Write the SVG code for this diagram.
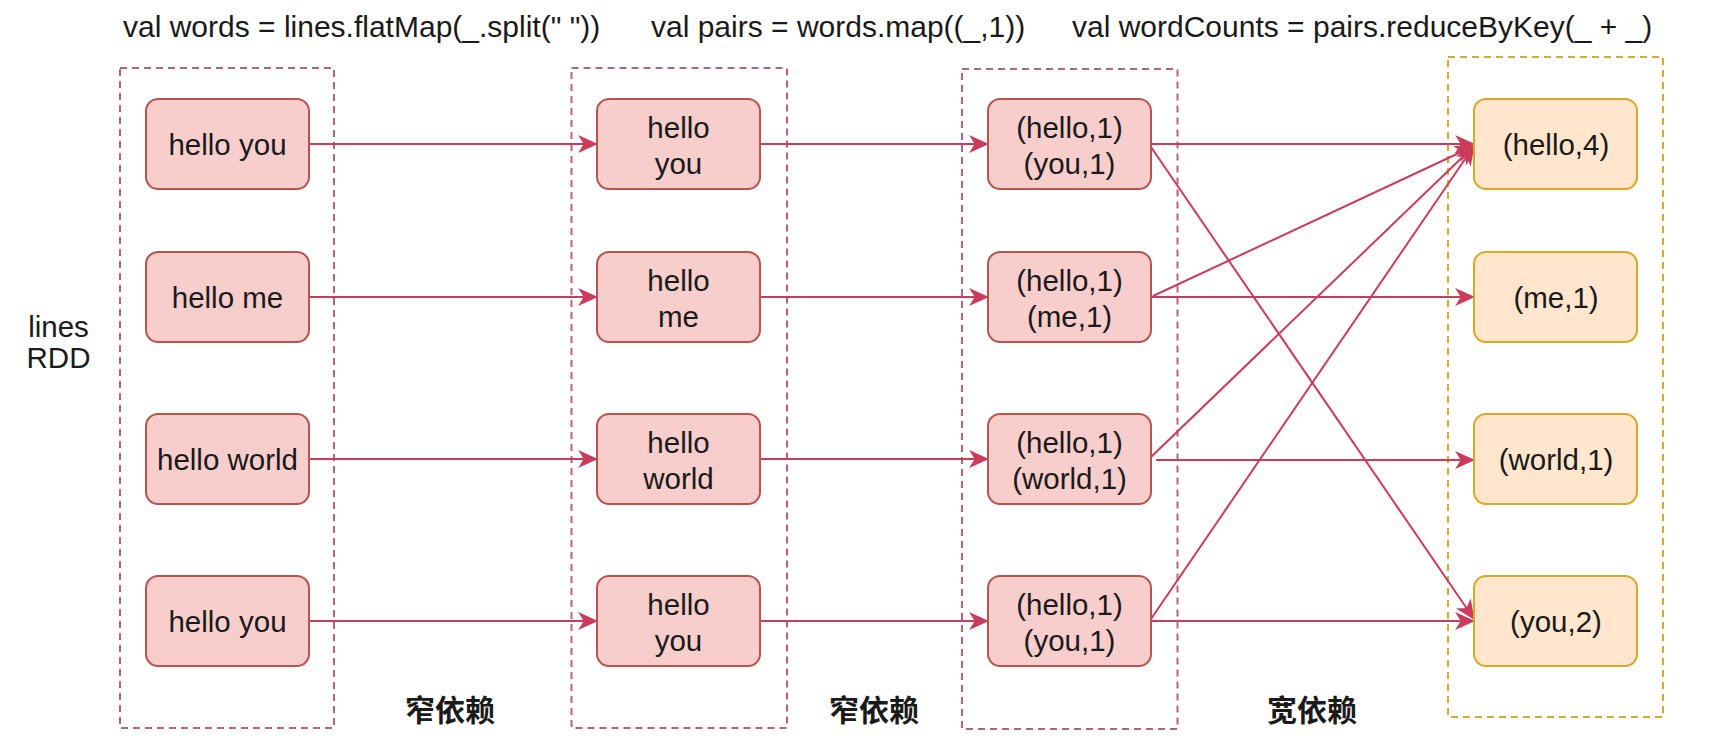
<svg xmlns="http://www.w3.org/2000/svg" width="1710" height="748" viewBox="0 0 1710 748">
<defs>
<style>
text{font-family:"Liberation Sans",Arial,Helvetica,sans-serif;fill:#1a1a1a;}
.t{font-size:30px;}
.n{font-size:29.5px;text-anchor:middle;}
.cj{font-family:"Liberation Sans","Noto Sans CJK SC",sans-serif;font-size:30px;font-weight:bold;text-anchor:middle;}
.grp{fill:none;stroke:#b5647f;stroke-width:2;stroke-dasharray:7 5;}
.grpo{fill:none;stroke:#d6a834;stroke-width:2;stroke-dasharray:7 5;}
.r{fill:#f8cecc;stroke:#b85450;stroke-width:2;}
.o{fill:#ffe6cc;stroke:#d9a826;stroke-width:2;}
.e{fill:none;stroke:#c93c5c;stroke-width:2;marker-end:url(#ah);}
</style>
<marker id="ah" markerUnits="userSpaceOnUse" markerWidth="20" markerHeight="18" viewBox="0 0 18 16" refX="17" refY="8" orient="auto">
<path d="M0,0 L18,8 L0,16 L5,8 z" fill="#c93c5c"/>
</marker>
</defs>
<rect width="1710" height="748" fill="#ffffff"/>

<g id="titles">
<text class="t" x="123" y="37">val words = lines.flatMap(_.split(" "))</text>
<text class="t" x="651" y="37">val pairs = words.map((_,1))</text>
<text class="t" x="1072" y="37">val wordCounts = pairs.reduceByKey(_ + _)</text>
</g>

<g id="label-lines-rdd">
<text class="n" x="58.5" y="337">lines</text>
<text class="n" x="58.5" y="368">RDD</text>
</g>

<g id="dep-labels">
<text class="cj" x="450" y="721">窄依赖</text>
<text class="cj" x="874" y="721">窄依赖</text>
<text class="cj" x="1312" y="721">宽依赖</text>
</g>

<g id="groups">
<rect id="grp-lines" class="grp" x="120" y="68" width="214" height="660"/>
<rect id="grp-words" class="grp" x="571.5" y="68" width="215.5" height="660"/>
<rect id="grp-pairs" class="grp" x="962" y="69" width="215.5" height="660"/>
<rect id="grp-counts" class="grpo" x="1448" y="57" width="215" height="660"/>
</g>

<g id="connectors">
<line class="e" x1="309" y1="144" x2="597" y2="144"/>
<line class="e" x1="309" y1="297" x2="597" y2="297"/>
<line class="e" x1="309" y1="459" x2="597" y2="459"/>
<line class="e" x1="309" y1="621" x2="597" y2="621"/>
<line class="e" x1="760" y1="144" x2="988" y2="144"/>
<line class="e" x1="760" y1="297" x2="988" y2="297"/>
<line class="e" x1="760" y1="459" x2="988" y2="459"/>
<line class="e" x1="760" y1="621" x2="988" y2="621"/>
<line class="e" x1="1151" y1="144" x2="1474" y2="144"/>
<line class="e" x1="1151" y1="147" x2="1474" y2="619"/>
<line class="e" x1="1153" y1="296" x2="1474" y2="146"/>
<line class="e" x1="1151" y1="297" x2="1474" y2="297"/>
<line class="e" x1="1151" y1="457" x2="1474" y2="146"/>
<line class="e" x1="1156" y1="460" x2="1474" y2="460"/>
<line class="e" x1="1151" y1="619" x2="1474" y2="146"/>
<line class="e" x1="1151" y1="621" x2="1474" y2="621"/>
</g>

<g id="n-l1"><rect class="r" x="146" y="99" width="163" height="90" rx="12"/><text class="n" x="227.5" y="155">hello you</text></g>
<g id="n-l2"><rect class="r" x="146" y="252" width="163" height="90" rx="12"/><text class="n" x="227.5" y="308">hello me</text></g>
<g id="n-l3"><rect class="r" x="146" y="414" width="163" height="90" rx="12"/><text class="n" x="227.5" y="470">hello world</text></g>
<g id="n-l4"><rect class="r" x="146" y="576" width="163" height="90" rx="12"/><text class="n" x="227.5" y="632">hello you</text></g>

<g id="n-w1"><rect class="r" x="597" y="99" width="163" height="90" rx="12"/><text class="n" x="678.5" y="138">hello</text><text class="n" x="678.5" y="174">you</text></g>
<g id="n-w2"><rect class="r" x="597" y="252" width="163" height="90" rx="12"/><text class="n" x="678.5" y="291">hello</text><text class="n" x="678.5" y="327">me</text></g>
<g id="n-w3"><rect class="r" x="597" y="414" width="163" height="90" rx="12"/><text class="n" x="678.5" y="453">hello</text><text class="n" x="678.5" y="489">world</text></g>
<g id="n-w4"><rect class="r" x="597" y="576" width="163" height="90" rx="12"/><text class="n" x="678.5" y="615">hello</text><text class="n" x="678.5" y="651">you</text></g>

<g id="n-p1"><rect class="r" x="988" y="99" width="163" height="90" rx="12"/><text class="n" x="1069.5" y="138">(hello,1)</text><text class="n" x="1069.5" y="174">(you,1)</text></g>
<g id="n-p2"><rect class="r" x="988" y="252" width="163" height="90" rx="12"/><text class="n" x="1069.5" y="291">(hello,1)</text><text class="n" x="1069.5" y="327">(me,1)</text></g>
<g id="n-p3"><rect class="r" x="988" y="414" width="163" height="90" rx="12"/><text class="n" x="1069.5" y="453">(hello,1)</text><text class="n" x="1069.5" y="489">(world,1)</text></g>
<g id="n-p4"><rect class="r" x="988" y="576" width="163" height="90" rx="12"/><text class="n" x="1069.5" y="615">(hello,1)</text><text class="n" x="1069.5" y="651">(you,1)</text></g>

<g id="n-c1"><rect class="o" x="1474" y="99" width="163" height="90" rx="12"/><text class="n" x="1556" y="155">(hello,4)</text></g>
<g id="n-c2"><rect class="o" x="1474" y="252" width="163" height="90" rx="12"/><text class="n" x="1556" y="308">(me,1)</text></g>
<g id="n-c3"><rect class="o" x="1474" y="414" width="163" height="90" rx="12"/><text class="n" x="1556" y="470">(world,1)</text></g>
<g id="n-c4"><rect class="o" x="1474" y="576" width="163" height="90" rx="12"/><text class="n" x="1556" y="632">(you,2)</text></g>
</svg>
